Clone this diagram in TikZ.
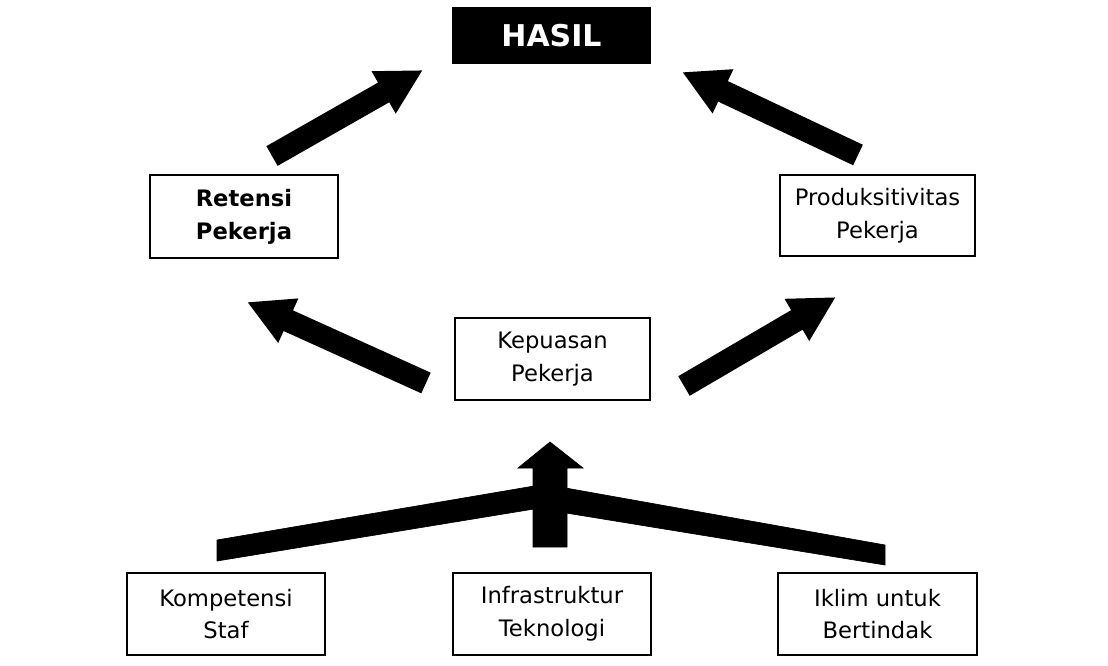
\documentclass[tikz,border=0pt]{standalone}
\usepackage{fontspec}
\setmainfont{DejaVu Sans}
\usetikzlibrary{arrows.meta}
\tikzset{
  box/.style={draw=black, line width=1.3pt, fill=white, align=center, inner sep=0pt,
    font=\fontsize{17}{24.5}\selectfont},
  blockarrow/.style={line width=17pt, draw=black, -{Triangle[length=34pt,width=34pt]}},
  band/.style={fill=black, draw=black, line width=0.5pt}
}
\begin{document}
\begin{tikzpicture}[x=0.75pt,y=-0.75pt]
\useasboundingbox (0,0) rectangle (1108,665);
% nodes
\node[box, fill=black, text=white, font=\fontsize{22.5}{26}\selectfont\bfseries,
  minimum width=147.75pt, minimum height=41.25pt] (hasil) at (551.5,35.5) {HASIL};
\node[box, font=\fontsize{17}{24.5}\selectfont\bfseries, minimum width=141pt, minimum height=62pt] (retensi) at (244,216.5) {\raisebox{-2pt}{\parbox{130pt}{\centering Retensi\\Pekerja}}};
\node[box, minimum width=146.25pt, minimum height=61pt] (produk) at (877.5,215.5) {\raisebox{-2pt}{\parbox{140pt}{\centering Produksitivitas\\Pekerja}}};
\node[box, minimum width=146.25pt, minimum height=61.5pt] (kepuasan) at (552.5,359) {\raisebox{-2pt}{\parbox{140pt}{\centering Kepuasan\\Pekerja}}};
\node[box, minimum width=148.5pt, minimum height=61.5pt] (kompetensi) at (226,614) {\raisebox{-2pt}{\parbox{140pt}{\centering Kompetensi\\Staf}}};
\node[box, minimum width=148.5pt, minimum height=61.5pt] (infra) at (552,614) {\raisebox{-2pt}{\parbox{140pt}{\centering Infrastruktur\\Teknologi}}};
\node[box, minimum width=149.25pt, minimum height=61.5pt] (iklim) at (877.5,614) {\raisebox{-2pt}{\parbox{140pt}{\centering Iklim untuk\\Bertindak}}};
% block arrow end points
\coordinate (r-tail) at (272,156);
\coordinate (r-tip) at (423,70);
\coordinate (p-tail) at (858,155);
\coordinate (p-tip) at (682,72);
\coordinate (kr-tail) at (426,383);
\coordinate (kr-tip) at (247,302);
\coordinate (kp-tail) at (684,386);
\coordinate (kp-tip) at (836,297);
\draw[blockarrow] (r-tail) -- (r-tip);
\draw[blockarrow] (p-tail) -- (p-tip);
\draw[blockarrow] (kr-tail) -- (kr-tip);
\draw[blockarrow] (kp-tail) -- (kp-tip);
% bottom fan
\coordinate (l-end-t) at (217,540);
\coordinate (l-end-b) at (217,561);
\coordinate (r-end-t) at (885,545);
\coordinate (r-end-b) at (885,565);
\path[band] (l-end-t) -- (l-end-b) -- (540,508) -- (540,485) -- cycle;
\path[band] (r-end-t) -- (r-end-b) -- (560,512) -- (560,487) -- cycle;
\coordinate (up-tip) at (550,442);
\path[band] (533,547) -- (533,468) -- (518,468) -- (up-tip) -- (583,468) -- (567,468) -- (567,547) -- cycle;
\end{tikzpicture}
\end{document}
